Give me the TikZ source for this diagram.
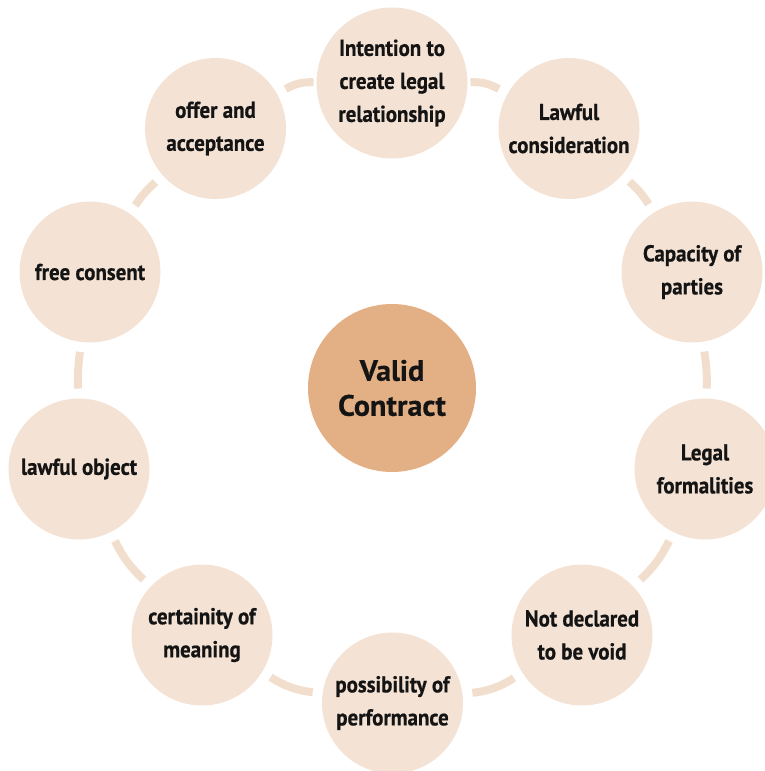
\documentclass[tikz,border=0pt]{standalone}
\usepackage{fontspec}
\setmainfont{PT Sans}
\newfontfamily\condfont[FakeStretch=0.91,FakeBold=0.6]{PT Sans}
\newfontfamily\hubfont[FakeStretch=1.02,FakeBold=0.4]{PT Sans}
\definecolor{itemfill}{HTML}{F4E2D4}
\definecolor{hubfill}{HTML}{E3B086}
\definecolor{linkcol}{HTML}{F2DECD}
\definecolor{txt}{HTML}{141414}
\tikzset{
  item/.style={circle, fill=itemfill, minimum size=141pt, inner sep=0pt, outer sep=10pt,
    font=\condfont\bfseries\fontsize{23}{33}\selectfont, align=center, text=txt},
  hub/.style={circle, fill=hubfill, minimum size=168pt, inner sep=0pt,
    font=\hubfont\bfseries\fontsize{29.5}{35}\selectfont, align=center, text=txt},
  link/.style={draw=linkcol, line width=8pt}
}
\begin{document}
\begin{tikzpicture}[x=1pt,y=1pt]
\useasboundingbox (0,0) rectangle (764,-771);
\node[item] (offer) at (215.5,-128.5) {offer and\\acceptance};
\node[item, minimum size=151pt, outer sep=3pt] (intent) at (392,-83) {Intention to\\create legal\\relationship};
\node[item] (lawcons) at (569,-128.5) {Lawful\\consideration};
\node[item] (capacity) at (692,-272) {Capacity of\\parties};
\node[item] (formal) at (705,-469) {Legal\\formalities};
\node[item] (notvoid) at (582,-635) {Not declared\\to be void};
\node[item] (possible) at (392.5,-703) {possibility of\\performance};
\node[item] (certain) at (202,-635) {certainity of\\meaning};
\node[item] (object) at (79,-469) {lawful object};
\node[item] (consent) at (90,-272) {free consent};
\node[hub] (valid) at (392,-388) {Valid\\Contract};
\draw[link] (offer) to[bend left=15] (intent);
\draw[link] (intent) to[bend left=15] (lawcons);
\draw[link] (lawcons) to[bend left=8] (capacity);
\draw[link] (capacity) to[bend left=5] (formal);
\draw[link] (formal) to[bend left=10] (notvoid);
\draw[link] (notvoid) to[bend left=12.5] (possible);
\draw[link] (possible) to[bend left=12] (certain);
\draw[link] (certain) to[bend left=10] (object);
\draw[link] (object) to[bend left=4] (consent);
\draw[link] (consent) to[bend left=7] (offer);
\end{tikzpicture}
\end{document}
